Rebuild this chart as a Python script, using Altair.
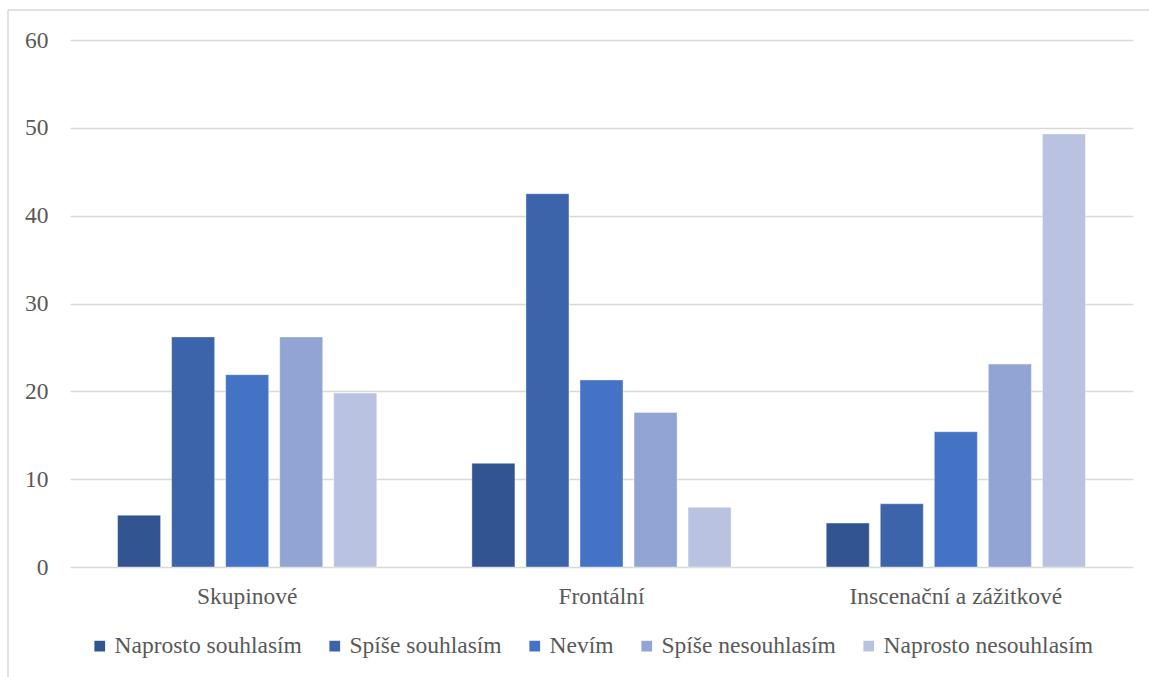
import altair as alt
import pandas as pd

categories = ["Skupinové", "Frontální", "Inscenační a zážitkové"]
series = ["Naprosto souhlasím", "Spíše souhlasím", "Nevím", "Spíše nesouhlasím", "Naprosto nesouhlasím"]
skupinove = [5.9, 26.2, 21.9, 26.2, 19.8]
frontalni = [11.8, 42.5, 21.3, 17.6, 6.8]
inscenacni = [5.0, 7.2, 15.4, 23.1, 49.3]
colors = ["#325591", "#3B64AB", "#4472C4", "#91A4D4", "#B9C3E1"]

rows = []
for cat, vals in zip(categories, [skupinove, frontalni, inscenacni]):
    for s, v in zip(series, vals):
        rows.append({"cat": cat, "series": s, "value": v})
df = pd.DataFrame(rows)

FONT = "'Liberation Serif', 'Times New Roman', serif"
FS = 23.5
TXT = "#595959"
GRID = "#D9D9D9"

bars = alt.Chart(df).mark_bar(stroke="white", strokeOpacity=0.5, strokeWidth=0.8).encode(
    x=alt.X("cat:N", sort=categories, title=None,
            scale=alt.Scale(paddingInner=0, paddingOuter=0),
            axis=alt.Axis(labelAngle=0, domain=False, ticks=False, labelPadding=17,
                          labelLimit=0,
                          labelFont=FONT, labelFontSize=FS, labelColor=TXT, grid=False)),
    xOffset=alt.XOffset("series:N", sort=series,
                        scale=alt.Scale(paddingInner=0.2037, paddingOuter=0.88)),
    y=alt.Y("value:Q", title=None,
            scale=alt.Scale(domain=[0, 60], nice=False),
            axis=alt.Axis(values=[0, 10, 20, 30, 40, 50, 60], domain=False, ticks=False,
                          labelPadding=22, labelFont=FONT, labelFontSize=FS, labelColor=TXT,
                          grid=True, gridColor=GRID, gridWidth=1.3)),
    color=alt.Color("series:N", sort=series,
                    scale=alt.Scale(domain=series, range=colors),
                    legend=alt.Legend(title=None, orient="none", direction="horizontal",
                                      legendX=18, legendY=594, symbolType="square",
                                      symbolSize=115, symbolStrokeWidth=0, labelOffset=3,
                                      columnPadding=21, labelFont=FONT, labelFontSize=FS,
                                      labelColor=TXT, columns=5, labelLimit=0)),
)

border_top = alt.Chart(alt.Data(values=[{}])).mark_rule(color=GRID, strokeWidth=1.5).encode(
    x=alt.value(-62), x2=alt.value(1100), y=alt.value(-30))
border_left = alt.Chart(alt.Data(values=[{}])).mark_rule(color=GRID, strokeWidth=1.5).encode(
    x=alt.value(-62), y=alt.value(-30), y2=alt.value(700))

chart = alt.layer(bars, border_top, border_left).properties(
    width=1063, height=527,
    autosize=alt.AutoSizeParams(type="none"),
    padding={"left": 70, "top": 40, "right": 16, "bottom": 110},
).configure(background="white", font=FONT).configure_view(stroke=None)

chart.save("out.html", embed_options={"renderer": "svg", "actions": False})
